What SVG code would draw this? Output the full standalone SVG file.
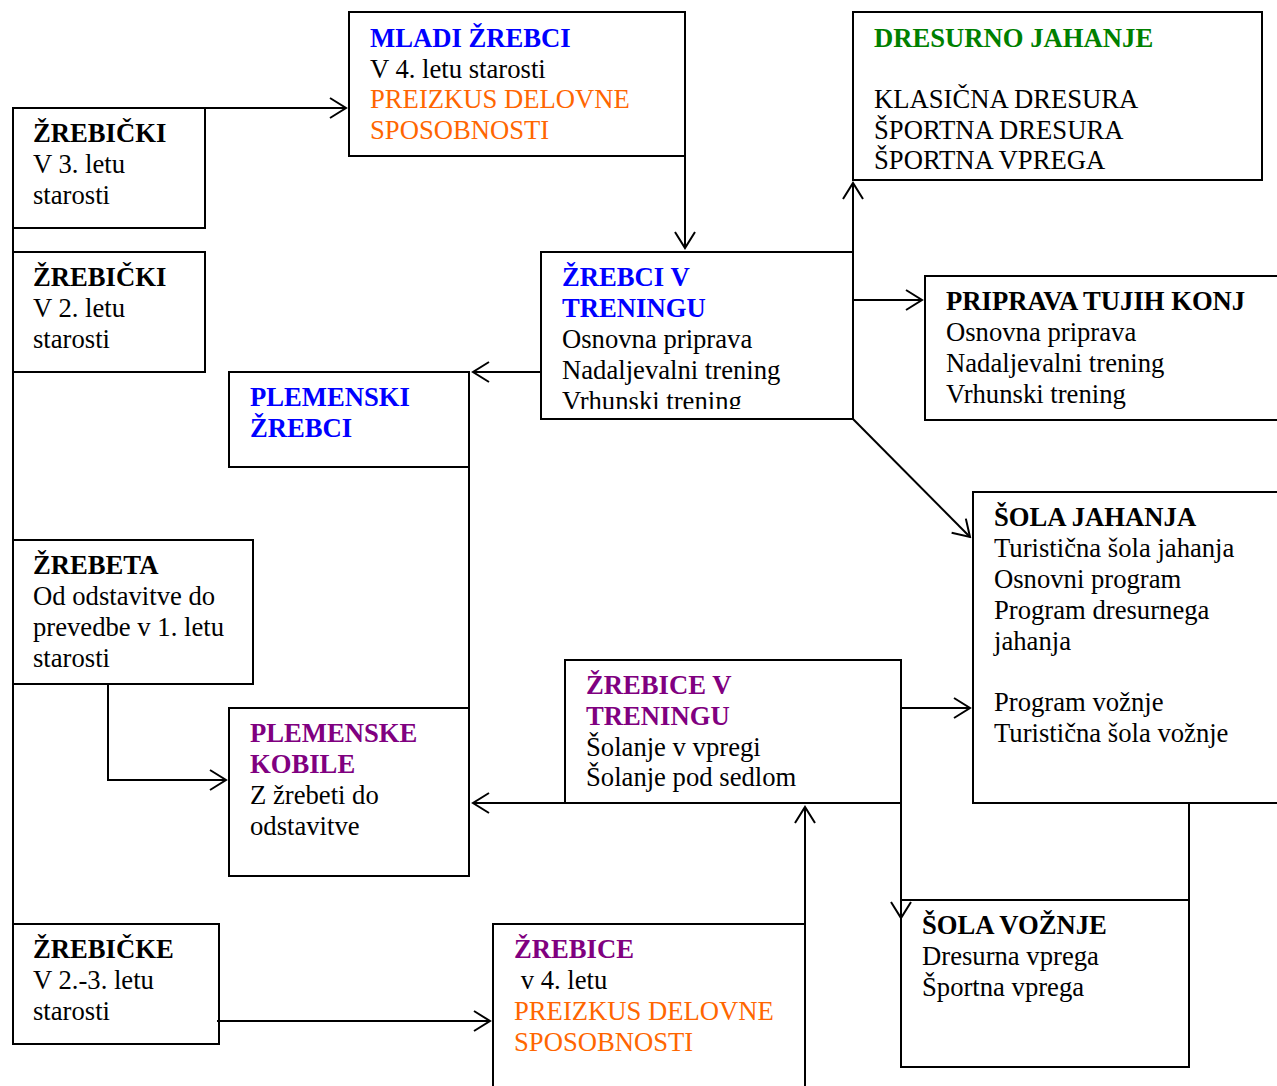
<svg xmlns="http://www.w3.org/2000/svg" width="1277" height="1086" viewBox="0 0 1277 1086">
<style>
.box{fill:#fff;stroke:#000;stroke-width:2}
.t{font-family:"Liberation Serif","Times New Roman",serif;font-size:26.67px;fill:#000}
.b{font-weight:bold}
.blue{fill:#0000FF}
.orange{fill:#FF6600}
.green{fill:#008000}
.purple{fill:#800080}
.c{fill:none;stroke:#000;stroke-width:2}
</style>
<defs>
<marker id="arr" viewBox="-19 -12 21 24" markerWidth="21" markerHeight="24" refX="0" refY="0" orient="auto" markerUnits="userSpaceOnUse">
<path d="M-16,-10 L0,0 L-16,10" fill="none" stroke="#000" stroke-width="2"/>
</marker>
<clipPath id="clipTren"><rect x="541" y="252" width="312" height="157"/></clipPath>
</defs>
<rect width="1277" height="1086" fill="#fff"/>

<g id="mladi-zrebci">
<rect class="box" x="349" y="12" width="336" height="144"/>
<text class="t" x="370" y="47"><tspan class="b blue">MLADI ŽREBCI</tspan><tspan x="370" y="78">V 4. letu starosti</tspan><tspan x="370" y="108" class="orange">PREIZKUS DELOVNE</tspan><tspan x="370" y="139" class="orange">SPOSOBNOSTI</tspan></text>
</g>

<g id="zrebicki-3">
<rect class="box" x="13" y="108" width="192" height="120"/>
<text class="t" x="33" y="142"><tspan class="b">ŽREBIČKI</tspan><tspan x="33" y="173">V 3. letu</tspan><tspan x="33" y="204">starosti</tspan></text>
</g>

<g id="zrebicki-2">
<rect class="box" x="13" y="252" width="192" height="120"/>
<text class="t" x="33" y="286"><tspan class="b">ŽREBIČKI</tspan><tspan x="33" y="317">V 2. letu</tspan><tspan x="33" y="348">starosti</tspan></text>
</g>

<g id="dresurno-jahanje">
<rect class="box" x="853" y="12" width="409" height="168"/>
<text class="t" x="874" y="47"><tspan class="b green">DRESURNO JAHANJE</tspan><tspan x="874" y="108">KLASIČNA DRESURA</tspan><tspan x="874" y="139">ŠPORTNA DRESURA</tspan><tspan x="874" y="169">ŠPORTNA VPREGA</tspan></text>
</g>

<g id="zrebci-v-treningu">
<rect class="box" x="541" y="252" width="312" height="167"/>
<text class="t" x="562" y="286" clip-path="url(#clipTren)"><tspan class="b blue">ŽREBCI V</tspan><tspan x="562" y="317" class="b blue">TRENINGU</tspan><tspan x="562" y="348">Osnovna priprava</tspan><tspan x="562" y="379">Nadaljevalni trening</tspan><tspan x="562" y="410">Vrhunski trening</tspan></text>
</g>

<g id="priprava-tujih-konj">
<rect class="box" x="925" y="276" width="360" height="144"/>
<text class="t" x="946" y="310"><tspan class="b">PRIPRAVA TUJIH KONJ</tspan><tspan x="946" y="341">Osnovna priprava</tspan><tspan x="946" y="372">Nadaljevalni trening</tspan><tspan x="946" y="403">Vrhunski trening</tspan></text>
</g>

<g id="plemenski-zrebci">
<rect class="box" x="229" y="372" width="240" height="95"/>
<text class="t" x="250" y="406"><tspan class="b blue">PLEMENSKI</tspan><tspan x="250" y="437" class="b blue">ŽREBCI</tspan></text>
</g>

<g id="zrebeta">
<rect class="box" x="13" y="540" width="240" height="144"/>
<text class="t" x="33" y="574"><tspan class="b">ŽREBETA</tspan><tspan x="33" y="605">Od odstavitve do</tspan><tspan x="33" y="636">prevedbe v 1. letu</tspan><tspan x="33" y="667">starosti</tspan></text>
</g>

<g id="plemenske-kobile">
<rect class="box" x="229" y="708" width="240" height="168"/>
<text class="t" x="250" y="742"><tspan class="b purple">PLEMENSKE</tspan><tspan x="250" y="773" class="b purple">KOBILE</tspan><tspan x="250" y="804">Z žrebeti do</tspan><tspan x="250" y="835">odstavitve</tspan></text>
</g>

<g id="zrebice-v-treningu">
<rect class="box" x="565" y="660" width="336" height="143"/>
<text class="t" x="586" y="694"><tspan class="b purple">ŽREBICE V</tspan><tspan x="586" y="725" class="b purple">TRENINGU</tspan><tspan x="586" y="756">Šolanje v vpregi</tspan><tspan x="586" y="786">Šolanje pod sedlom</tspan></text>
</g>

<g id="sola-jahanja">
<rect class="box" x="973" y="492" width="312" height="311"/>
<text class="t" x="994" y="526"><tspan class="b">ŠOLA JAHANJA</tspan><tspan x="994" y="557">Turistična šola jahanja</tspan><tspan x="994" y="588">Osnovni program</tspan><tspan x="994" y="619">Program dresurnega</tspan><tspan x="994" y="650">jahanja</tspan><tspan x="994" y="711">Program vožnje</tspan><tspan x="994" y="742">Turistična šola vožnje</tspan></text>
</g>

<g id="sola-voznje">
<rect class="box" x="901" y="900" width="288" height="167"/>
<text class="t" x="922" y="934"><tspan class="b">ŠOLA VOŽNJE</tspan><tspan x="922" y="965">Dresurna vprega</tspan><tspan x="922" y="996">Športna vprega</tspan></text>
</g>

<g id="zrebicke">
<rect class="box" x="13" y="924" width="206" height="120"/>
<text class="t" x="33" y="958"><tspan class="b">ŽREBIČKE</tspan><tspan x="33" y="989">V 2.-3. letu</tspan><tspan x="33" y="1020">starosti</tspan></text>
</g>

<g id="zrebice">
<rect class="box" x="493" y="924" width="312" height="175"/>
<text class="t" x="514" y="958" xml:space="preserve"><tspan class="b purple">ŽREBICE</tspan><tspan x="514" y="989"> v 4. letu</tspan><tspan x="514" y="1020" class="orange">PREIZKUS DELOVNE</tspan><tspan x="514" y="1051" class="orange">SPOSOBNOSTI</tspan></text>
</g>

<g id="connectors">
<path class="c" d="M13,108 V1044"/>
<path class="c" d="M181,108 H346" marker-end="url(#arr)"/>
<path class="c" d="M685,156 V248" marker-end="url(#arr)"/>
<path class="c" d="M541,372 H473" marker-end="url(#arr)"/>
<path class="c" d="M853,252 V183" marker-end="url(#arr)"/>
<path class="c" d="M853,300 H922" marker-end="url(#arr)"/>
<path class="c" d="M853,419 L970,537" marker-end="url(#arr)"/>
<path class="c" d="M469,372 V876"/>
<path class="c" d="M108,684 V780 H226" marker-end="url(#arr)"/>
<path class="c" d="M901,803 H473" marker-end="url(#arr)"/>
<path class="c" d="M805,1086 V807" marker-end="url(#arr)"/>
<path class="c" d="M901,708 H970" marker-end="url(#arr)"/>
<path class="c" d="M901,660 V918" marker-end="url(#arr)"/>
<path class="c" d="M1189,803 V1067"/>
<path class="c" d="M217,1021 H490" marker-end="url(#arr)"/>
</g>
</svg>
